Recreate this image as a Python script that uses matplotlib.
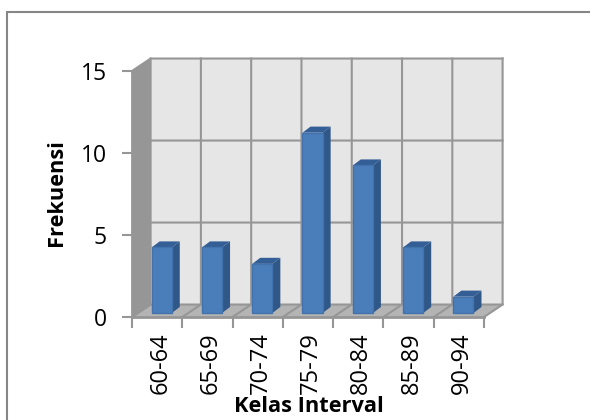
import matplotlib
matplotlib.use("Agg")
import matplotlib.pyplot as plt
from matplotlib.patches import Polygon, Rectangle
from matplotlib.transforms import ScaledTranslation

W, H = 590, 420

categories = ["60-64", "65-69", "70-74", "75-79", "80-84", "85-89", "90-94"]
frekuensi = [4, 4, 3, 11, 9, 4, 1]
y_ticks = [0, 5, 10, 15]

DEPTH_X = 0.37   # wall offset, in category units
DEPTH_Y = 0.76   # wall offset, in value units
BAR_X = 0.39     # bar front left, from category start
BAR_W = 0.40
BAR_DX = 0.16
BAR_DY = 0.37
BAR_OFF_Y = 0.24

GRID = "#969696"
plt.rcParams["font.family"] = ["Open Sans", "DejaVu Sans"]

fig = plt.figure(figsize=(W / 100, H / 100), dpi=100, facecolor="white")
# chart frame
fig.add_artist(Rectangle((7 / W, -0.1), 600 / W, 1 - 12 / H + 0.1, transform=fig.transFigure,
                         fill=False, ec="#868686", lw=1.5))

# front plane of the 3D box
ax = fig.add_axes([132 / W, 1 - 317 / H, 352 / W, 246 / H])
ax.set_xlim(0, len(categories))
ax.set_ylim(0, 15)
ax.patch.set_visible(False)
for s in ax.spines.values():
    s.set_visible(False)


def poly(pts, fc, ec="none", lw=0.0, z=1):
    ax.add_patch(Polygon(pts, closed=True, fc=fc, ec=ec, lw=lw, zorder=z, clip_on=False))


n = len(categories)
top = y_ticks[-1]
# back wall, side wall, floor
poly([(DEPTH_X, DEPTH_Y), (n + DEPTH_X, DEPTH_Y), (n + DEPTH_X, top + DEPTH_Y), (DEPTH_X, top + DEPTH_Y)], "#e6e6e6")
poly([(0, 0), (DEPTH_X, DEPTH_Y), (DEPTH_X, top + DEPTH_Y), (0, top)], "#969696")
poly([(0, 0), (n, 0), (n + DEPTH_X, DEPTH_Y), (DEPTH_X, DEPTH_Y)], "#b4b4b4")

# gridlines on the walls and floor
for v in y_ticks:
    ax.plot([0, DEPTH_X, n + DEPTH_X], [v, v + DEPTH_Y, v + DEPTH_Y], color=GRID, lw=1.5, zorder=2, clip_on=False)
for i in range(n + 1):
    ax.plot([i, i + DEPTH_X, i + DEPTH_X], [0, DEPTH_Y, top + DEPTH_Y], color=GRID, lw=1.5, zorder=2, clip_on=False)
ax.plot([0, n], [0, 0], color=GRID, lw=2, zorder=2, clip_on=False)
ax.plot([0, 0], [0, top], color=GRID, lw=2, zorder=2, clip_on=False)

# bars
for i, v in enumerate(frekuensi):
    x0 = i + BAR_X
    x1 = x0 + BAR_W
    y0 = BAR_OFF_Y
    y1 = v + BAR_OFF_Y
    poly([(x1, y0), (x1 + BAR_DX, y0 + BAR_DY), (x1 + BAR_DX, y1 + BAR_DY), (x1, y1)], "#2f5788", z=3)
    poly([(x0, y1), (x1, y1), (x1 + BAR_DX, y1 + BAR_DY), (x0 + BAR_DX, y1 + BAR_DY)], "#345f96", z=3)
    poly([(x0, y0), (x1, y0), (x1, y1), (x0, y1)], "#4a7ebb", ec="#4272ab", lw=1.0, z=4)

ax.set_yticks(y_ticks)
ax.set_xticks(range(n + 1))
ax.set_xticklabels([])
ax.set_xticks([i + 0.5 for i in range(n)], labels=categories, minor=True)
ax.tick_params(axis="y", length=7, width=1.5, color=GRID, labelsize=16.5, pad=11, labelcolor="black")
ax.tick_params(axis="x", which="major", length=8, width=1.5, color=GRID)
ax.tick_params(axis="x", which="minor", length=0, labelsize=17, pad=11, labelrotation=90)
# nudge the rotated labels to sit under the bars
nudge = ScaledTranslation(3 / 100, 0, fig.dpi_scale_trans)
for lab in ax.get_xticklabels(minor=True):
    lab.set_transform(lab.get_transform() + nudge)

fig.text(56 / W, 1 - 193 / H, "Frekuensi", rotation=90, ha="center", va="center", fontsize=15.7, fontweight="bold")
fig.text(309 / W, 1 - 407 / H, "Kelas Interval", ha="center", va="center", fontsize=15.7, fontweight="bold")

fig.savefig("out.png", dpi=100)
